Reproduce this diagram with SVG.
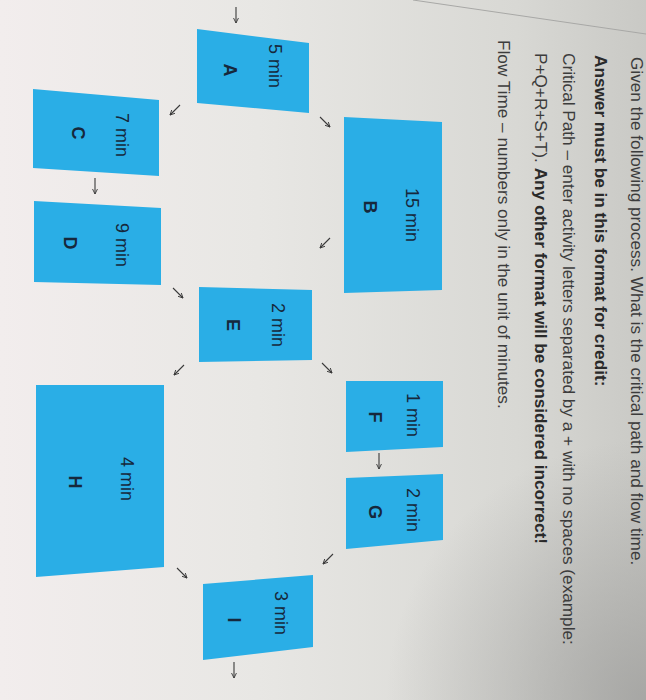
<svg xmlns="http://www.w3.org/2000/svg" width="646" height="700" viewBox="0 0 646 700">
<defs>
<linearGradient id="bg" x1="0" y1="0" x2="1" y2="0">
<stop offset="0" stop-color="#f2eded"/>
<stop offset="0.4" stop-color="#e8e7e4"/>
<stop offset="0.8" stop-color="#d8d8d4"/>
<stop offset="1" stop-color="#c9c9c5"/>
</linearGradient>
<radialGradient id="vig" cx="646" cy="700" r="260" gradientUnits="userSpaceOnUse">
<stop offset="0" stop-color="#9e9e9c" stop-opacity="0.8"/>
<stop offset="1" stop-color="#9e9e9c" stop-opacity="0"/>
</radialGradient>
<marker id="ah" viewBox="0 0 6 6" refX="5.5" refY="3" markerWidth="5" markerHeight="5" orient="auto">
<path d="M0,0.3 L5.5,3 L0,5.7" fill="none" stroke="#3a3a3a" stroke-width="1"/>
</marker>
<style>
.q{font-family:"Liberation Sans",Arial,sans-serif;font-size:17.2px;fill:#3c3c3c}
.b{font-weight:bold;fill:#2a2a2a}
.box{fill:#2aaee6}
.t{font-family:"Liberation Sans",Arial,sans-serif;font-size:18px;fill:#16283c;text-anchor:middle}
.l{font-family:"Liberation Sans",Arial,sans-serif;font-size:18px;font-weight:bold;fill:#16283c;text-anchor:middle}
.c line{stroke:#3a3a3a;stroke-width:1.1;marker-end:url(#ah)}
</style>
</defs>
<rect width="646" height="700" fill="url(#bg)"/>
<rect width="646" height="700" fill="url(#vig)"/>
<line x1="413" y1="0" x2="646" y2="34" stroke="#a8a8a6" stroke-width="1"/>
<g id="screen" transform="translate(700,0) rotate(90)">
<g id="question">
<text class="q" x="57" y="69">Given the following process. What is the critical path and flow time.</text>
<text class="q b" x="55" y="105">Answer must be in this format for credit:</text>
<text class="q" x="53" y="137">Critical Path – enter activity letters separated by a + with no spaces (example:</text>
<text class="q" x="53" y="165">P+Q+R+S+T). <tspan class="b">Any other format will be considered incorrect!</tspan></text>
<text class="q" x="40" y="202">Flow Time – numbers only in the unit of minutes.</text>
</g>
<g id="A"><polygon class="box" points="43,391 113,391 103,503 29,503"/><text class="t" x="66" y="431">5 min</text><text class="l" x="70" y="476">A</text></g>
<g id="B"><polygon class="box" points="122,258 290,258 293,356 117,356"/><text class="t" x="215" y="294">15 min</text><text class="l" x="207" y="336">B</text></g>
<g id="C"><polygon class="box" points="100,541 176,541 168,667 89,667"/><text class="t" x="135" y="584">7 min</text><text class="l" x="133" y="628">C</text></g>
<g id="D"><polygon class="box" points="208,539 285,539 282,666 201,666"/><text class="t" x="245" y="584">9 min</text><text class="l" x="243" y="636">D</text></g>
<g id="E"><polygon class="box" points="290,388 360,388 362,501 287,501"/><text class="t" x="325" y="428">2 min</text><text class="l" x="325" y="473">E</text></g>
<g id="F"><polygon class="box" points="381,257 447,257 452,354 381,354"/><text class="t" x="415" y="293">1 min</text><text class="l" x="417" y="331">F</text></g>
<g id="G"><polygon class="box" points="474,257 540,257 549,354 478,354"/><text class="t" x="510" y="293">2 min</text><text class="l" x="512" y="331">G</text></g>
<g id="H"><polygon class="box" points="385,536 567,536 577,664 385,664"/><text class="t" x="479" y="579">4 min</text><text class="l" x="482" y="631">H</text></g>
<g id="I"><polygon class="box" points="575,387 647,387 660,497 584,497"/><text class="t" x="613" y="425">3 min</text><text class="l" x="620" y="472">I</text></g>
<g id="connectors" class="c">
<line x1="7" y1="464" x2="23" y2="464"/>
<line x1="117" y1="380" x2="127" y2="370"/>
<line x1="105" y1="520" x2="115" y2="530"/>
<line x1="238" y1="370" x2="248" y2="380"/>
<line x1="178" y1="605" x2="194" y2="605"/>
<line x1="288" y1="527" x2="298" y2="517"/>
<line x1="363" y1="378" x2="373" y2="368"/>
<line x1="365" y1="516" x2="375" y2="526"/>
<line x1="453" y1="321" x2="469" y2="321"/>
<line x1="554" y1="367" x2="564" y2="377"/>
<line x1="568" y1="523" x2="578" y2="513"/>
<line x1="662" y1="466" x2="678" y2="466"/>
</g>
</g>
</svg>
